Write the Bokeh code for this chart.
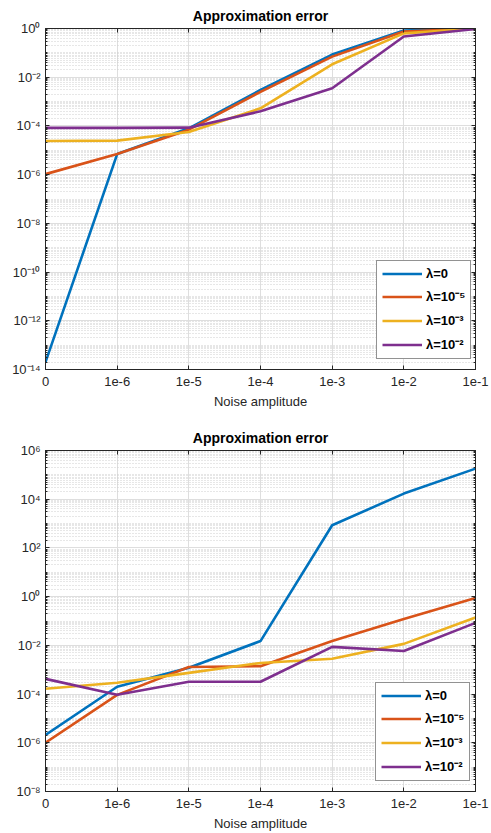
from bokeh.plotting import figure
from bokeh.layouts import column
from bokeh.models import (FixedTicker, CustomJSTickFormatter, LogAxis, LinearAxis,
                          Legend, LegendItem, Range1d)
from bokeh.embed import file_html
from bokeh.resources import INLINE

noise_labels = ["0", "1e-6", "1e-5", "1e-4", "1e-3", "1e-2", "1e-1"]
legend_labels = ["λ=0", "λ=10⁻⁵", "λ=10⁻³", "λ=10⁻²"]
colors = ["#0072BD", "#D95319", "#EDB120", "#7E2F8E"]

# top panel
top_lam0 = [2e-14, 7e-6, 8e-5, 3e-3, 0.085, 0.83, 1.0]
top_lam1e5 = [1.05e-6, 7e-6, 7e-5, 2.5e-3, 0.07, 0.75, 1.0]
top_lam1e3 = [2.4e-5, 2.5e-5, 5.6e-5, 5.3e-4, 0.034, 0.63, 1.0]
top_lam1e2 = [8.3e-5, 8.3e-5, 8.5e-5, 4e-4, 3.5e-3, 0.47, 0.95]

# bottom panel
bot_lam0 = [2.1e-6, 2e-4, 1.2e-3, 1.5e-2, 850, 1.7e4, 1.8e5]
bot_lam1e5 = [1e-6, 9.3e-5, 1.3e-3, 1.4e-3, 1.5e-2, 0.12, 0.87]
bot_lam1e3 = [1.65e-4, 2.9e-4, 7.4e-4, 1.9e-3, 2.8e-3, 1.15e-2, 0.14]
bot_lam1e2 = [4.2e-4, 9.3e-5, 3.2e-4, 3.2e-4, 8.7e-3, 5.9e-3, 0.084]

FONT = "Liberation Sans"
TXT = "#262626"

sup_code = """
const sup = {'0':'\u2070','1':'\u00b9','2':'\u00b2','3':'\u00b3','4':'\u2074','5':'\u2075',
             '6':'\u2076','7':'\u2077','8':'\u2078','9':'\u2079','-':'\u207b'};
const e = Math.round(Math.log10(tick));
return '10' + String(e).split('').map(c => sup[c]).join('');
"""


def make_fig(series, lo_exp, hi_exp, width, height, bl, br, bt, bb, leg_loc):
    x = list(range(len(noise_labels)))
    p = figure(width=width, height=height, y_axis_type="log",
               x_range=Range1d(0, len(noise_labels) - 1),
               y_range=Range1d(10.0 ** lo_exp, 10.0 ** hi_exp),
               output_backend="svg", toolbar_location=None,
               min_border_left=bl, min_border_right=br,
               min_border_top=bt, min_border_bottom=bb)
    p.background_fill_color = "white"
    p.border_fill_color = "white"
    p.outline_line_color = TXT
    p.outline_line_width = 1

    major = [10.0 ** k for k in range(lo_exp, hi_exp + 1, 2)]
    minor = []
    for k in range(lo_exp, hi_exp):
        for d in range(1, 10):
            v = d * 10.0 ** k
            if d == 1 and (k - lo_exp) % 2 == 0:
                continue
            minor.append(v)
    yticker = FixedTicker(ticks=major, minor_ticks=minor)
    xticker = FixedTicker(ticks=x, minor_ticks=[])

    # axes
    ya = p.yaxis[0]
    ya.ticker = yticker
    ya.formatter = CustomJSTickFormatter(code=sup_code)
    xa = p.xaxis[0]
    xa.ticker = xticker
    xa.major_label_overrides = {i: lab for i, lab in enumerate(noise_labels)}
    xa.axis_label = "Noise amplitude"
    for ax in (xa, ya):
        ax.major_tick_in = 4
        ax.major_tick_out = 0
        ax.minor_tick_in = 2
        ax.minor_tick_out = 0
        ax.axis_line_color = TXT
        ax.major_tick_line_color = TXT
        ax.minor_tick_line_color = TXT
        ax.major_label_text_font = FONT
        ax.major_label_text_font_size = "13px"
        ax.major_label_text_color = TXT
        ax.axis_label_text_font = FONT
        ax.axis_label_text_font_size = "13px"
        ax.axis_label_text_font_style = "normal"
        ax.axis_label_text_color = TXT
    xa.major_label_standoff = 7
    xa.axis_label_standoff = 5
    ya.major_label_standoff = 5

    blank = CustomJSTickFormatter(code="return '';")
    ra = LogAxis(ticker=yticker, formatter=blank, major_tick_in=4, major_tick_out=0,
                 minor_tick_in=2, minor_tick_out=0, axis_line_color=TXT,
                 major_tick_line_color=TXT, minor_tick_line_color=TXT,
                 major_label_standoff=0, major_label_text_font_size="1px")
    p.add_layout(ra, "right")
    ta = LinearAxis(ticker=xticker, formatter=blank, major_tick_in=4, major_tick_out=0,
                    minor_tick_in=0, minor_tick_out=0, axis_line_color=TXT,
                    major_tick_line_color=TXT,
                    major_label_standoff=0, major_label_text_font_size="1px")
    p.add_layout(ta, "above")

    # grids
    p.xgrid.ticker = xticker
    p.ygrid.ticker = yticker
    p.xgrid.grid_line_color = "#dedede"
    p.ygrid.grid_line_color = "#dedede"
    p.ygrid.minor_grid_line_color = "#cfcfcf"
    p.ygrid.minor_grid_line_dash = "1 2"

    # title
    p.title.text = "Approximation error"
    p.title.align = "center"
    p.title.text_font = FONT
    p.title.text_font_size = "14px"
    p.title.text_font_style = "bold"
    p.title.text_color = "black"

    items = []
    for ys, c, lab in zip(series, colors, legend_labels):
        r = p.line(x, ys, line_color=c, line_width=2.6)
        items.append(LegendItem(label=lab, renderers=[r]))

    leg = Legend(items=items, location=leg_loc)
    leg.label_text_font = FONT
    leg.label_text_font_size = "13px"
    leg.label_text_font_style = "bold"
    leg.label_text_color = "black"
    leg.border_line_color = TXT
    leg.border_line_width = 1
    leg.background_fill_alpha = 1
    leg.glyph_width = 40
    leg.glyph_height = 15
    leg.label_height = 15
    leg.spacing = 6
    leg.padding = 5
    leg.margin = 0
    leg.label_standoff = 4
    p.add_layout(leg)
    return p


p1 = make_fig([top_lam0, top_lam1e5, top_lam1e3, top_lam1e2], -14, 0,
              491, 412, 45, 12, 27, 43, (331, 10))
p2 = make_fig([bot_lam0, bot_lam1e5, bot_lam1e3, bot_lam1e2], -8, 6,
              491, 421, 42, 16, 38, 41, (330, 10))

layout = column(p1, p2, spacing=0)
open("out.html", "w").write(file_html(layout, INLINE))
